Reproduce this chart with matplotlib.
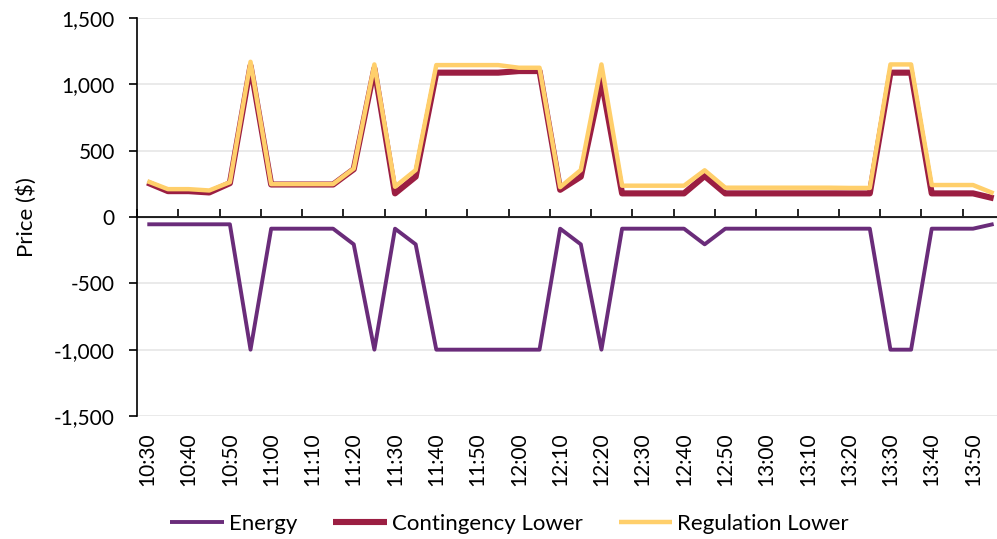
import pandas as pd
import numpy as np
import matplotlib.pyplot as plt

plt.rcParams['font.family'] = ['Lato', 'DejaVu Sans']

# 5-minute intervals, 10:30 to 13:55
times = pd.date_range("2024-01-01 10:30", "2024-01-01 13:55", freq="5min").strftime("%H:%M").tolist()

energy = [-55, -55, -55, -55, -55, -1000, -88, -88, -88, -88,
          -206, -1000, -88, -206, -1000, -1000, -1000, -1000, -1000, -1000,
          -88, -206, -1000, -88, -88, -88, -88, -206, -88, -88,
          -88, -88, -88, -88, -88, -88, -1000, -1000, -88, -88,
          -88, -53]
contingency_lower = [260, 195, 195, 185, 255, 1140, 245, 245, 245, 245,
                     360, 1120, 178, 304, 1088, 1088, 1088, 1088, 1100, 1100,
                     205, 304, 1032, 178, 178, 178, 178, 309, 178, 178,
                     178, 178, 178, 178, 178, 178, 1088, 1088, 178, 178,
                     178, 141]
regulation_lower = [270, 210, 210, 200, 262, 1170, 248, 248, 248, 248,
                    365, 1150, 228, 354, 1145, 1145, 1145, 1145, 1125, 1125,
                    225, 354, 1150, 236, 236, 236, 236, 352, 221, 221,
                    221, 221, 221, 221, 219, 219, 1150, 1150, 241, 241,
                    241, 178]

PURPLE = '#6A2C7A'
CRIMSON = '#9B1E42'
GOLD = '#FFCF6B'

x = np.arange(len(times))

fig = plt.figure(figsize=(9.97, 5.39), dpi=100)
ax = fig.add_axes([0.1374, 0.2282, 0.8696, 0.7384])

ax.plot(x, energy, color=PURPLE, lw=2.8, label='Energy', solid_capstyle='butt', zorder=3)
ax.plot(x, contingency_lower, color=CRIMSON, lw=4.4, label='Contingency Lower', solid_capstyle='butt', zorder=4)
ax.plot(x, regulation_lower, color=GOLD, lw=3.2, label='Regulation Lower', solid_capstyle='butt', zorder=5)

ax.set_xlim(-0.5, len(times) - 0.5)
ax.set_ylim(-1500, 1500)
ax.set_yticks(np.arange(-1500, 1501, 500))
ax.yaxis.set_major_formatter(plt.FuncFormatter(lambda v, p: f"{v:,.0f}"))
ax.grid(axis='y', color='#E6E6E6', lw=1.2, zorder=0)
ax.set_axisbelow(True)
ax.axhline(0, color='black', lw=1.2, zorder=2)

for s in ['top', 'right', 'bottom']:
    ax.spines[s].set_visible(False)
ax.spines['left'].set_color('black')
ax.spines['left'].set_linewidth(1.2)
ax.tick_params(axis='y', direction='out', length=6, width=1.2, labelsize=15, pad=10)

# category labels at bottom, every second category
ax.set_xticks(x[::2])
ax.set_xticklabels(times[::2], rotation=90, fontsize=15)
ax.tick_params(axis='x', length=0, pad=12)

# tick marks on the zero line, between categories
zero_ax = ax.secondary_xaxis(0.5)
zero_ax.set_xticks(np.arange(-0.5, len(times), 2))
zero_ax.set_xticklabels([])
zero_ax.tick_params(axis='x', direction='out', length=6, width=1.2, color='black')
zero_ax.spines['bottom'].set_visible(False)

ax.set_ylabel('Price ($)', fontsize=16, labelpad=12)

ax.legend(loc='center', bbox_to_anchor=(0.430, -0.272), ncol=3, frameon=False,
          fontsize=16, handlelength=2.4, columnspacing=1.6, handletextpad=0.25)

plt.savefig('out.png', dpi=100)
